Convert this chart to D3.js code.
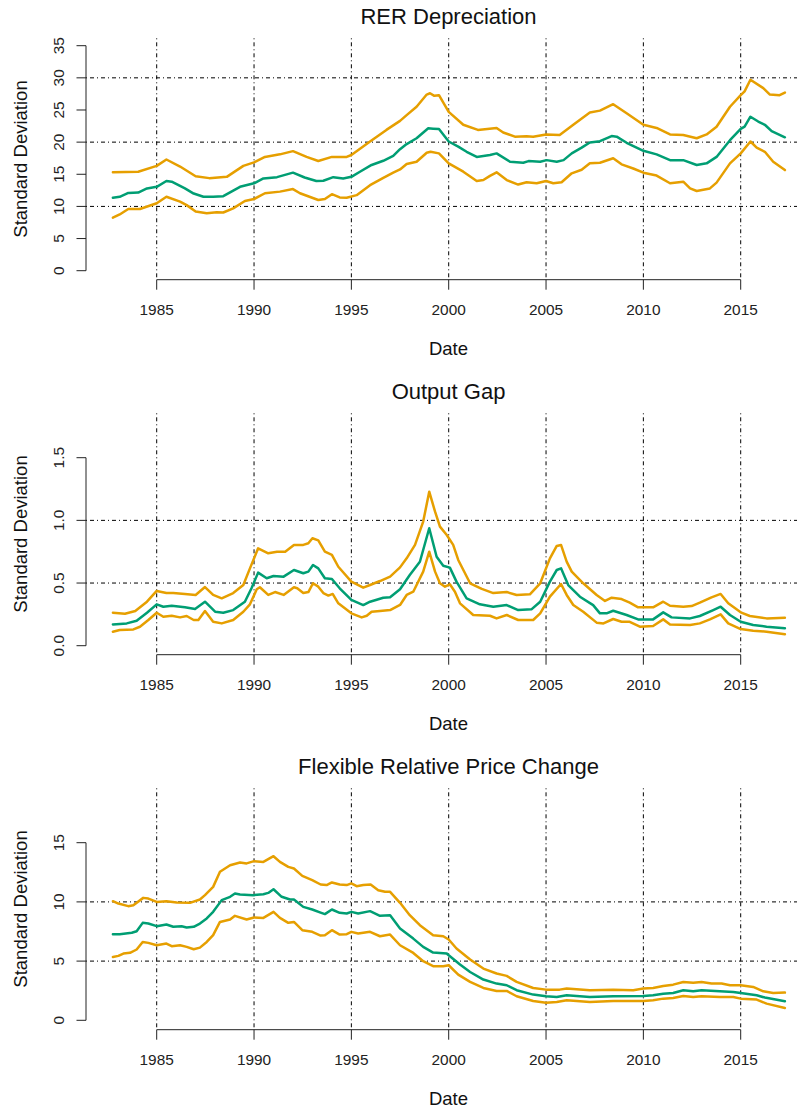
<!DOCTYPE html>
<html>
<head>
<meta charset="utf-8">
<script src="https://cdn.jsdelivr.net/npm/d3@7"></script>
<style>
  body { margin: 0; background: #fff; }
  svg { display: block; font-family: "Liberation Sans", Arial, sans-serif; }
  .grid { stroke: #000; stroke-width: 1; stroke-dasharray: 1,3,4,3; fill: none; }
  .axis-line { stroke: #222; stroke-width: 1; fill: none; }
  .line { fill: none; stroke-width: 2.5; stroke-linejoin: round; stroke-linecap: round; }
  .band { stroke: #E69F00; }
  .mid { stroke: #009E73; }
</style>
</head>
<body>
<div id="vis-container"></div>
<script>
// tick labels / axes
const xTicks = [1985, 1990, 1995, 2000, 2005, 2010, 2015];
const titles = ["RER Depreciation", "Output Gap", "Flexible Relative Price Change"];
const yTicks1 = [0, 5, 10, 15, 20, 25, 30, 35];
const yTicks2 = [0, 0.5, 1.0, 1.5];
const yTicks3 = [0, 5, 10, 15];
const hGrid1 = [10, 20, 30];
const hGrid2 = [0.5, 1.0];
const hGrid3 = [5, 10];

// RER Depreciation: [date, sd]
const rerUpper = [[1982.75,15.3],[1984.05,15.4],[1985,16.3],[1985.5,17.3],[1986.2,16.2],[1987,14.7],[1987.7,14.4],[1988.6,14.6],[1989.45,16.3],[1990,16.85],[1990.56,17.7],[1991.33,18.1],[1992,18.6],[1992.7,17.7],[1993.3,17.06],[1994,17.7],[1994.76,17.7],[1995,18.0],[1995.96,20.1],[1996.8,21.9],[1997.5,23.3],[1997.84,24.2],[1998.35,25.5],[1998.87,27.4],[1999.04,27.6],[1999.26,27.2],[1999.5,27.3],[2000,24.7],[2000.75,22.7],[2001.5,21.9],[2002.46,22.2],[2002.8,21.5],[2003.4,20.85],[2004,20.9],[2004.34,20.85],[2005,21.2],[2005.7,21.1],[2006.4,22.7],[2007.25,24.6],[2007.77,24.9],[2008.45,25.9],[2009.14,24.5],[2010,22.7],[2010.68,22.2],[2011.37,21.2],[2012.05,21.1],[2012.74,20.6],[2013.25,21.2],[2013.76,22.4],[2014.45,25.5],[2015,27.3],[2015.2,27.9],[2015.5,29.7],[2016.16,28.4],[2016.5,27.4],[2017,27.3],[2017.27,27.7]];
const rerMid = [[1982.75,11.35],[1983.1,11.5],[1983.54,12.1],[1984.05,12.15],[1984.5,12.8],[1985,13.05],[1985.5,13.95],[1985.77,13.85],[1986.45,12.8],[1986.9,12.0],[1987.4,11.5],[1987.9,11.5],[1988.42,11.6],[1989.28,13.05],[1990,13.6],[1990.48,14.35],[1991.18,14.55],[1992,15.25],[1992.6,14.5],[1993.2,13.95],[1993.56,14.0],[1994.07,14.55],[1994.58,14.35],[1995,14.6],[1995.44,15.4],[1996.04,16.45],[1996.64,17.1],[1997.15,17.85],[1997.5,18.9],[1997.84,19.7],[1998.35,20.6],[1998.95,22.15],[1999.2,22.1],[1999.5,22.05],[2000,20.1],[2000.49,19.3],[2000.92,18.5],[2001.44,17.7],[2002.12,18.0],[2002.46,18.25],[2003.15,16.95],[2003.83,16.8],[2004.1,17.05],[2004.7,16.95],[2005.03,17.2],[2005.55,16.95],[2005.9,17.2],[2006.32,18.25],[2006.83,19.15],[2007.25,19.95],[2007.77,20.15],[2008.37,20.95],[2008.63,20.85],[2009.14,19.9],[2010,18.65],[2010.68,18.1],[2011.37,17.2],[2012.05,17.2],[2012.74,16.45],[2013.25,16.7],[2013.76,17.7],[2014.45,20.3],[2015,22.05],[2015.2,22.4],[2015.5,23.95],[2015.9,23.2],[2016.24,22.7],[2016.59,21.7],[2017.27,20.75]];
const rerLower = [[1982.75,8.25],[1983.1,8.75],[1983.54,9.6],[1984.14,9.6],[1985,10.5],[1985.5,11.5],[1986.2,10.75],[1986.54,10.2],[1987,9.2],[1987.57,8.95],[1988.08,9.1],[1988.42,9.05],[1988.93,9.7],[1989.53,10.85],[1990,11.15],[1990.56,12.05],[1991.33,12.3],[1992,12.7],[1992.36,12.05],[1993.3,11.0],[1993.64,11.15],[1994,11.9],[1994.4,11.4],[1994.76,11.35],[1995.27,11.75],[1995.96,13.3],[1996.64,14.45],[1997.15,15.25],[1997.5,15.75],[1997.84,16.6],[1998.35,16.95],[1998.87,18.35],[1999.07,18.5],[1999.5,18.25],[2000,16.7],[2000.75,15.4],[2001.44,13.95],[2001.78,14.1],[2002.12,14.75],[2002.46,15.3],[2002.98,14.1],[2003.57,13.4],[2004,13.75],[2004.52,13.6],[2005,13.95],[2005.37,13.6],[2005.8,13.75],[2006.32,15.15],[2006.83,15.7],[2007.25,16.7],[2007.77,16.8],[2008.45,17.5],[2008.88,16.55],[2009.48,15.9],[2010,15.25],[2010.68,14.8],[2011.37,13.6],[2012.05,13.85],[2012.4,12.8],[2012.74,12.4],[2013.42,12.8],[2013.76,13.7],[2014.45,16.7],[2015,18.25],[2015.5,20.1],[2015.82,19.15],[2016.24,18.5],[2016.67,16.95],[2017.27,15.65]];

// Output Gap
const gapUpper = [[1982.75,0.263],[1983.37,0.255],[1983.9,0.277],[1984.5,0.351],[1985,0.437],[1985.5,0.42],[1985.85,0.42],[1986.45,0.413],[1987,0.405],[1987.48,0.468],[1987.9,0.405],[1988.34,0.378],[1988.93,0.42],[1989.45,0.484],[1989.79,0.617],[1990.21,0.777],[1990.73,0.737],[1991.18,0.75],[1991.6,0.75],[1992.05,0.804],[1992.53,0.804],[1992.79,0.817],[1993.0,0.857],[1993.3,0.84],[1993.64,0.75],[1994,0.724],[1994.33,0.63],[1995,0.511],[1995.61,0.463],[1995.96,0.484],[1996.47,0.516],[1996.99,0.551],[1997.5,0.625],[1997.84,0.697],[1998.27,0.804],[1998.69,0.99],[1999.0,1.229],[1999.3,1.069],[1999.55,0.95],[1999.9,0.883],[2000.23,0.804],[2000.49,0.684],[2001.1,0.498],[2001.7,0.453],[2002.29,0.42],[2002.98,0.428],[2003.49,0.405],[2004.17,0.41],[2004.7,0.498],[2005.2,0.697],[2005.55,0.796],[2005.77,0.804],[2006.06,0.671],[2006.32,0.591],[2006.91,0.498],[2007.6,0.405],[2008.03,0.357],[2008.37,0.383],[2008.88,0.372],[2009.3,0.343],[2009.73,0.306],[2010.5,0.306],[2011.02,0.351],[2011.37,0.319],[2012.05,0.311],[2012.48,0.316],[2012.9,0.343],[2013.5,0.386],[2013.97,0.413],[2014.36,0.338],[2015,0.266],[2015.47,0.237],[2016.33,0.218],[2017.27,0.223]];
const gapMid = [[1982.75,0.17],[1983.46,0.178],[1983.97,0.199],[1984.5,0.263],[1985,0.33],[1985.34,0.311],[1985.77,0.319],[1986.45,0.306],[1986.97,0.293],[1987.48,0.351],[1988.0,0.271],[1988.42,0.263],[1988.93,0.284],[1989.53,0.351],[1989.87,0.458],[1990.21,0.583],[1990.65,0.538],[1991.0,0.556],[1991.52,0.551],[1992.05,0.604],[1992.53,0.578],[1992.79,0.591],[1993.03,0.644],[1993.3,0.617],[1993.64,0.538],[1994,0.532],[1994.4,0.458],[1995,0.365],[1995.61,0.324],[1995.96,0.351],[1996.64,0.383],[1996.99,0.386],[1997.5,0.45],[1998.0,0.564],[1998.52,0.67],[1999.0,0.937],[1999.38,0.71],[1999.72,0.638],[2000.06,0.623],[2000.4,0.511],[2000.92,0.378],[2001.6,0.33],[2002.29,0.311],[2002.98,0.324],[2003.57,0.284],[2004.25,0.29],[2004.7,0.351],[2005.2,0.511],[2005.55,0.604],[2005.77,0.617],[2006.14,0.484],[2006.74,0.391],[2007.42,0.324],[2007.77,0.258],[2008.11,0.258],[2008.45,0.279],[2009.14,0.245],[2009.73,0.21],[2010.5,0.21],[2011.02,0.266],[2011.45,0.226],[2012.4,0.218],[2012.9,0.237],[2013.59,0.284],[2013.97,0.311],[2014.45,0.245],[2015,0.191],[2015.64,0.165],[2016.33,0.152],[2017.27,0.139]];
const gapLower = [[1982.75,0.112],[1983.1,0.125],[1983.8,0.13],[1984.14,0.151],[1984.57,0.205],[1985,0.263],[1985.34,0.231],[1985.77,0.239],[1986.2,0.226],[1986.54,0.237],[1986.9,0.205],[1987.14,0.205],[1987.48,0.277],[1987.9,0.191],[1988.34,0.178],[1988.93,0.205],[1989.45,0.271],[1989.79,0.33],[1990.14,0.45],[1990.3,0.466],[1990.73,0.405],[1991.08,0.428],[1991.52,0.405],[1992.05,0.466],[1992.22,0.458],[1992.53,0.42],[1992.79,0.428],[1993.03,0.498],[1993.3,0.471],[1993.56,0.42],[1993.82,0.4],[1994.04,0.413],[1994.33,0.338],[1995,0.258],[1995.53,0.226],[1995.79,0.239],[1996.04,0.271],[1996.47,0.277],[1996.99,0.284],[1997.5,0.325],[1997.84,0.405],[1998.18,0.431],[1998.69,0.591],[1999.0,0.75],[1999.3,0.591],[1999.55,0.498],[1999.81,0.471],[2000.06,0.49],[2000.32,0.431],[2000.58,0.338],[2001.26,0.245],[2002.12,0.239],[2002.46,0.218],[2002.98,0.245],[2003.57,0.205],[2004.34,0.205],[2004.7,0.258],[2005.2,0.391],[2005.77,0.492],[2006.06,0.405],[2006.4,0.325],[2006.91,0.271],[2007.6,0.184],[2007.95,0.178],[2008.45,0.213],[2008.88,0.191],[2009.3,0.191],[2009.82,0.152],[2010.5,0.157],[2011.02,0.21],[2011.37,0.17],[2012.4,0.165],[2012.9,0.178],[2013.42,0.21],[2013.97,0.25],[2014.36,0.178],[2015,0.133],[2015.64,0.12],[2016.33,0.112],[2017.27,0.091]];

// Flexible Relative Price Change
const flexUpper = [[1982.75,10.06],[1983.03,9.86],[1983.54,9.64],[1983.8,9.72],[1984.31,10.34],[1984.57,10.28],[1985,10.0],[1985.5,10.06],[1986.03,9.95],[1986.71,9.92],[1987.22,10.2],[1987.48,10.57],[1987.9,11.27],[1988.25,12.54],[1988.77,13.1],[1989.28,13.33],[1989.62,13.25],[1990,13.44],[1990.48,13.38],[1991.0,13.86],[1991.33,13.38],[1991.76,12.96],[1992.05,12.82],[1992.48,12.2],[1992.99,11.84],[1993.42,11.47],[1993.73,11.42],[1994,11.64],[1994.4,11.47],[1994.76,11.42],[1995,11.56],[1995.27,11.33],[1995.61,11.42],[1995.99,11.47],[1996.38,10.99],[1996.73,10.85],[1996.99,10.85],[1997.5,9.92],[1998.0,8.88],[1998.52,8.03],[1999.2,7.19],[1999.72,7.1],[2000,6.82],[2000.4,6.06],[2001.1,5.13],[2001.78,4.37],[2002.46,3.95],[2002.98,3.75],[2003.49,3.24],[2004.34,2.73],[2005,2.59],[2005.7,2.59],[2006.06,2.68],[2007.25,2.54],[2008.45,2.59],[2009.48,2.54],[2010,2.68],[2010.5,2.73],[2011.02,2.9],[2011.53,3.01],[2012.05,3.24],[2012.56,3.18],[2012.99,3.24],[2013.5,3.1],[2014.02,3.1],[2014.45,2.96],[2015,2.96],[2015.64,2.82],[2016.16,2.45],[2016.67,2.31],[2017.27,2.34]];
const flexMid = [[1982.75,7.27],[1983.1,7.27],[1983.72,7.39],[1983.97,7.52],[1984.28,8.23],[1984.57,8.17],[1985,7.95],[1985.5,8.09],[1985.85,7.9],[1986.28,7.95],[1986.54,7.84],[1986.9,7.9],[1987.22,8.17],[1987.57,8.6],[1987.9,9.16],[1988.34,10.15],[1988.77,10.43],[1989.02,10.71],[1989.28,10.62],[1989.96,10.57],[1990.48,10.65],[1990.73,10.76],[1991.0,11.07],[1991.42,10.43],[1991.85,10.2],[1992.05,10.2],[1992.53,9.58],[1992.99,9.36],[1993.42,9.1],[1993.64,8.97],[1994,9.36],[1994.4,9.08],[1994.76,9.02],[1995,9.16],[1995.35,9.02],[1995.96,9.22],[1996.47,8.82],[1996.99,8.88],[1997.5,7.76],[1998.18,6.9],[1998.69,6.2],[1999.2,5.72],[1999.9,5.64],[2000,5.49],[2000.58,4.71],[2001.1,4.08],[2001.78,3.44],[2002.46,3.1],[2002.98,2.96],[2003.49,2.54],[2004.34,2.17],[2005,2.03],[2005.55,1.97],[2006.06,2.11],[2007.25,1.97],[2008.45,2.03],[2010,2.06],[2010.5,2.11],[2011.02,2.25],[2011.53,2.31],[2012.05,2.54],[2012.56,2.45],[2012.99,2.54],[2013.93,2.45],[2014.62,2.39],[2015,2.31],[2015.82,2.11],[2016.24,1.92],[2017.27,1.61]];
const flexLower = [[1982.75,5.35],[1983.03,5.44],[1983.29,5.64],[1983.63,5.7],[1983.97,5.98],[1984.28,6.62],[1984.57,6.54],[1985,6.34],[1985.5,6.48],[1985.77,6.26],[1986.2,6.34],[1986.54,6.2],[1986.9,6.0],[1987.22,6.14],[1987.57,6.62],[1987.9,7.19],[1988.25,8.31],[1988.77,8.51],[1989.02,8.82],[1989.62,8.51],[1990,8.68],[1990.48,8.65],[1991.0,9.16],[1991.33,8.65],[1991.76,8.23],[1992.05,8.31],[1992.48,7.61],[1992.99,7.47],[1993.42,7.16],[1993.64,7.19],[1994,7.61],[1994.4,7.24],[1994.76,7.27],[1995,7.47],[1995.35,7.33],[1995.96,7.47],[1996.47,7.1],[1996.99,7.24],[1997.5,6.34],[1998.18,5.69],[1998.69,4.99],[1999.2,4.57],[1999.72,4.57],[2000,4.65],[2000.49,3.86],[2001.1,3.24],[2001.78,2.73],[2002.46,2.48],[2002.98,2.48],[2003.49,2.03],[2004.34,1.63],[2005,1.49],[2005.55,1.55],[2006.06,1.69],[2007.25,1.55],[2008.45,1.63],[2010,1.63],[2010.5,1.69],[2011.02,1.83],[2011.53,1.89],[2012.05,2.06],[2012.56,1.97],[2012.99,2.03],[2013.93,1.97],[2014.62,1.97],[2015,1.83],[2015.82,1.75],[2016.33,1.41],[2017.27,1.04]];

const width = 797, height = 1112;
const panelStep = 375;
const plotTop = 38.3, plotBottom = 279.7, plotLeft = 86, plotRight = 811;

const svg = d3.select("#vis-container").append("svg")
    .attr("width", width).attr("height", height);

const xScale = d3.scaleLinear().domain([1985, 2015]).range([156.7, 740.7]);

const panels = [
  {title: titles[0], ticks: yTicks1, grid: hGrid1, y0: 270.7, yTop: 45.7, series: [rerUpper, rerLower, rerMid]},
  {title: titles[1], ticks: yTicks2, grid: hGrid2, y0: 270.7, yTop: 82.7, series: [gapUpper, gapLower, gapMid]},
  {title: titles[2], ticks: yTicks3, grid: hGrid3, y0: 270.3, yTop: 92.7, series: [flexUpper, flexLower, flexMid]}
];

panels.forEach((p, i) => {
  let g = svg.append("g").attr("transform", "translate(0," + (i * panelStep) + ")");
  let yMax = d3.max(p.ticks);
  let yScale = d3.scaleLinear().domain([0, yMax]).range([p.y0, p.yTop]);

  // grid lines
  g.selectAll(".vgrid").data(xTicks).enter().append("line")
    .attr("class", "grid")
    .attr("x1", d => xScale(d)).attr("x2", d => xScale(d))
    .attr("y1", plotTop).attr("y2", plotBottom);
  g.selectAll(".hgrid").data(p.grid).enter().append("line")
    .attr("class", "grid")
    .attr("x1", plotLeft).attr("x2", plotRight)
    .attr("y1", d => yScale(d)).attr("y2", d => yScale(d));

  // lines
  let line = d3.line().x(d => xScale(d[0])).y(d => yScale(d[1]));
  p.series.forEach((s, k) => {
    g.append("path").attr("class", "line " + (k == 2 ? "mid" : "band")).attr("d", line(s));
  });

  // y axis (R style, labels parallel to axis)
  g.append("line").attr("class", "axis-line")
    .attr("x1", plotLeft).attr("x2", plotLeft)
    .attr("y1", yScale(0)).attr("y2", yScale(yMax));
  g.selectAll(".ytick").data(p.ticks).enter().append("line")
    .attr("class", "axis-line")
    .attr("x1", plotLeft - 9.5).attr("x2", plotLeft)
    .attr("y1", d => yScale(d)).attr("y2", d => yScale(d));
  g.selectAll(".ylab").data(p.ticks).enter().append("text")
    .attr("transform", d => "translate(64," + yScale(d) + ") rotate(-90)")
    .attr("text-anchor", "middle").attr("font-size", 15.4).attr("fill", "#222")
    .text(d => i == 1 ? d3.format(".1f")(d) : d);

  // x axis
  g.append("line").attr("class", "axis-line")
    .attr("x1", xScale(1985)).attr("x2", xScale(2015))
    .attr("y1", plotBottom).attr("y2", plotBottom);
  g.selectAll(".xtick").data(xTicks).enter().append("line")
    .attr("class", "axis-line")
    .attr("x1", d => xScale(d)).attr("x2", d => xScale(d))
    .attr("y1", plotBottom).attr("y2", plotBottom + 10);
  g.selectAll(".xlab").data(xTicks).enter().append("text")
    .attr("x", d => xScale(d)).attr("y", 315)
    .attr("text-anchor", "middle").attr("font-size", 15.4).attr("fill", "#222")
    .text(d => d);

  // titles and axis labels
  let cx = (plotLeft + plotRight) / 2;
  g.append("text").attr("x", cx).attr("y", 24.4)
    .attr("text-anchor", "middle").attr("font-size", 22).attr("fill", "#111")
    .text(p.title);
  g.append("text").attr("x", cx).attr("y", 354.5)
    .attr("text-anchor", "middle").attr("font-size", 18.5).attr("fill", "#111")
    .text("Date");
  g.append("text")
    .attr("transform", "translate(26.7," + ((plotTop + plotBottom) / 2) + ") rotate(-90)")
    .attr("text-anchor", "middle").attr("font-size", 18.5).attr("fill", "#111")
    .text("Standard Deviation");
});
</script>
</body>
</html>
